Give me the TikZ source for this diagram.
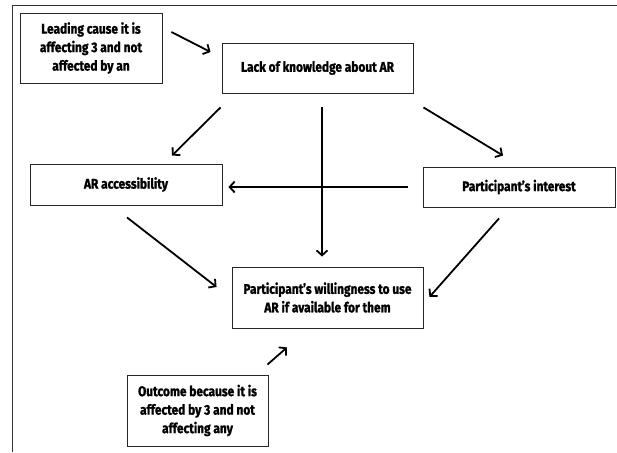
\documentclass[tikz,border=0pt]{standalone}
\usepackage{fontspec}
\setmainfont{Fira Sans}[FakeStretch=0.85,BoldFeatures={FakeBold=1.3}]
\usetikzlibrary{arrows.meta,positioning}

\begin{document}
\begin{tikzpicture}[x=1pt,y=1pt,>={Straight Barb[length=5pt,width=11pt]},on grid,
  box/.style={draw=black!85,line width=0.9pt,align=center,inner sep=0pt,
    font=\fontsize{14}{18.5}\selectfont\bfseries},
  arr/.style={->,line width=1.8pt}]
  \useasboundingbox (0,0) rectangle (617,452);
  \draw[black!80,line width=0.9pt] (12,0) |- (617,447);

  \node[box,minimum width=191pt,minimum height=50pt] (lack) at (317.5,384) {Lack of knowledge about AR};
  \node[box,minimum width=142pt,minimum height=70pt] (lead) [above left=20pt and 226.5pt of lack] {Leading cause it is\\affecting 3 and not\\affected by an};
  \node[box,minimum width=192pt,minimum height=41pt] (acc) [below left=116.5pt and 191.5pt of lack] {AR accessibility};
  \node[box,minimum width=192pt,minimum height=40pt] (inter) [below right=119pt and 201.5pt of lack] {Participant’s interest};
  \node[box,minimum width=191pt,minimum height=61pt] (will) [below right=229.5pt and 10pt of lack] {Participant’s willingness to use\\AR if available for them};
  \node[box,minimum width=141pt,minimum height=71pt] (out) [below left=113pt and 130pt of will] {Outcome because it is\\affected by 3 and not\\affecting any};

  \draw[arr] ([shift={(9,16)}]lead.east) -- ([shift={(-11,16)}]lack.west);
  \draw[arr] ([shift={(-1,-14)}]lack.south west) -- ([shift={(46,8)}]acc.north);
  \draw[arr] ([shift={(4.5,-14)}]lack.south) -- ([shift={(-5.5,10)}]will.north);
  \draw[arr] ([shift={(10,-14)}]lack.south east) -- ([shift={(-16,11)}]inter.north);
  \draw[arr] ([shift={(-15,0)}]inter.west) -- ([shift={(6,-2.5)}]acc.east);
  \draw[arr] ([shift={(1,-12)}]acc.south) -- ([shift={(-15,10.5)}]will.west);
  \draw[arr] ([shift={(-20,-11)}]inter.south) -- ([shift={(6,0.5)}]will.east);
  \draw[arr] ([shift={(-1,10)}]out.north east) -- ([shift={(-40.5,-19)}]will.south);
\end{tikzpicture}
\end{document}
